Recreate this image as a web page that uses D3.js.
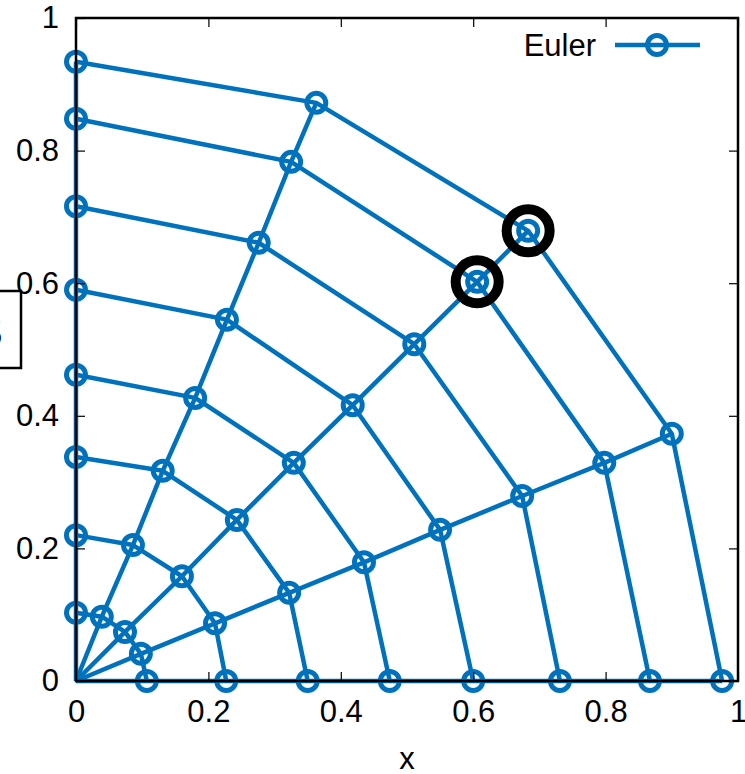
<!DOCTYPE html>
<html>
<head>
<meta charset="utf-8">
<script src="https://cdn.jsdelivr.net/npm/d3@7"></script>
<style>
  body { margin: 0; background: #fff; }
  svg text { font-family: "Liberation Sans", Arial, sans-serif; }
</style>
</head>
<body>
<div id="chart"></div>
<script>
// mesh nodes, one array per ray (0 = along x axis ... 4 = along y axis), 8 rings each
var ray0X = [0.107, 0.227, 0.350, 0.474, 0.600, 0.731, 0.867, 0.976];
var ray0Y = [0, 0, 0, 0, 0, 0, 0, 0];
var ray1X = [0.098, 0.210, 0.322, 0.435, 0.550, 0.674, 0.798, 0.900];
var ray1Y = [0.041, 0.087, 0.133, 0.179, 0.228, 0.279, 0.329, 0.373];
var ray2X = [0.074, 0.160, 0.243, 0.329, 0.418, 0.511, 0.606, 0.683];
var ray2Y = [0.074, 0.158, 0.243, 0.329, 0.416, 0.508, 0.602, 0.679];
var ray3X = [0.039, 0.086, 0.131, 0.180, 0.228, 0.276, 0.325, 0.363];
var ray3Y = [0.097, 0.205, 0.317, 0.427, 0.545, 0.661, 0.783, 0.872];
var ray4X = [0, 0, 0, 0, 0, 0, 0, 0];
var ray4Y = [0.103, 0.220, 0.338, 0.462, 0.590, 0.716, 0.848, 0.934];

var highlightRay = [2, 2];   // circled nodes
var highlightRing = [6, 7];

var xTicks = [0, 0.2, 0.4, 0.6, 0.8, 1];
var yTicks = [0, 0.2, 0.4, 0.6, 0.8, 1];
var seriesName = "Euler";

var raysX = [ray0X, ray1X, ray2X, ray3X, ray4X];
var raysY = [ray0Y, ray1Y, ray2Y, ray3Y, ray4Y];

var W = 745, H = 774;
var blue = "#0072bd";
var svg = d3.select("#chart").append("svg").attr("width", W).attr("height", H);

var x = d3.scaleLinear().domain([0, 1]).range([76, 738]);
var y = d3.scaleLinear().domain([0, 1]).range([681, 18]);

var line = d3.line().x(function (d) { return x(d[0]); }).y(function (d) { return y(d[1]); });

// rays from origin
var rays = raysX.map(function (xs, r) {
  return [[0, 0]].concat(xs.map(function (v, i) { return [v, raysY[r][i]]; }));
});
// rings across rays (from y axis to x axis)
var rings = d3.range(8).map(function (i) {
  return d3.range(4, -1, -1).map(function (r) { return [raysX[r][i], raysY[r][i]]; });
});

var g = svg.append("g");
g.selectAll("path.ray").data(rays).enter().append("path")
  .attr("d", line).attr("fill", "none").attr("stroke", blue).attr("stroke-width", 4.5);
g.selectAll("path.ring").data(rings).enter().append("path")
  .attr("d", line).attr("fill", "none").attr("stroke", blue).attr("stroke-width", 4.5)
  .attr("stroke-linejoin", "round");

var nodes = [];
raysX.forEach(function (xs, r) { xs.forEach(function (v, i) { nodes.push([v, raysY[r][i]]); }); });
g.selectAll("circle.node").data(nodes).enter().append("circle")
  .attr("cx", function (d) { return x(d[0]); })
  .attr("cy", function (d) { return y(d[1]); })
  .attr("r", 9.5).attr("fill", "none").attr("stroke", blue).attr("stroke-width", 5);

// axes: ticks inward on all sides
function styleAxis(sel) {
  sel.select(".domain").remove();
  sel.selectAll("line").attr("stroke", "#000").attr("stroke-width", 1.2);
  sel.selectAll("text").attr("fill", "#000").style("font-size", "31px")
    .style("font-family", "'Liberation Sans', Arial, sans-serif");
}
svg.append("g").attr("transform", "translate(0,681)")
  .call(d3.axisBottom(x).tickValues(xTicks).tickSize(-9).tickPadding(19).tickFormat(d3.format("")))
  .call(styleAxis);
svg.append("g").attr("transform", "translate(76,0)")
  .call(d3.axisLeft(y).tickValues(yTicks).tickSize(-9).tickPadding(17).tickFormat(d3.format("")))
  .call(styleAxis);
svg.append("g").attr("transform", "translate(0,18)")
  .call(d3.axisTop(x).tickValues(xTicks).tickSize(-9).tickFormat(""))
  .call(styleAxis);
svg.append("g").attr("transform", "translate(738,0)")
  .call(d3.axisRight(y).tickValues(yTicks).tickSize(-9).tickFormat(""))
  .call(styleAxis);

svg.append("rect")
  .attr("x", x(0)).attr("y", y(1))
  .attr("width", x(1) - x(0)).attr("height", y(0) - y(1))
  .attr("fill", "none").attr("stroke", "#000").attr("stroke-width", 2.5);

// highlighted nodes
svg.selectAll("circle.hl").data(highlightRay).enter().append("circle")
  .attr("cx", function (r, k) { return x(raysX[r][highlightRing[k]]); })
  .attr("cy", function (r, k) { return y(raysY[r][highlightRing[k]]); })
  .attr("r", 21.5).attr("fill", "none").attr("stroke", "#000").attr("stroke-width", 10);

// axis title
svg.append("text").attr("x", 407).attr("y", 769).attr("text-anchor", "middle")
  .style("font-size", "31px").text("x");

// boxed y label, mostly off the canvas
svg.append("rect").attr("x", -30).attr("y", 291).attr("width", 51).attr("height", 77)
  .attr("fill", "#fff").attr("stroke", "#000").attr("stroke-width", 2.5);
svg.append("text").attr("x", 3).attr("y", 347).attr("text-anchor", "end")
  .style("font-size", "46px").text("S");

// legend
svg.append("text").attr("x", 596).attr("y", 56).attr("text-anchor", "end")
  .style("font-size", "31px").text(seriesName);
svg.append("line").attr("x1", 615).attr("x2", 700).attr("y1", 45).attr("y2", 45)
  .attr("stroke", blue).attr("stroke-width", 4.5);
svg.append("circle").attr("cx", 657).attr("cy", 45).attr("r", 9.5)
  .attr("fill", "none").attr("stroke", blue).attr("stroke-width", 5);
</script>
</body>
</html>
